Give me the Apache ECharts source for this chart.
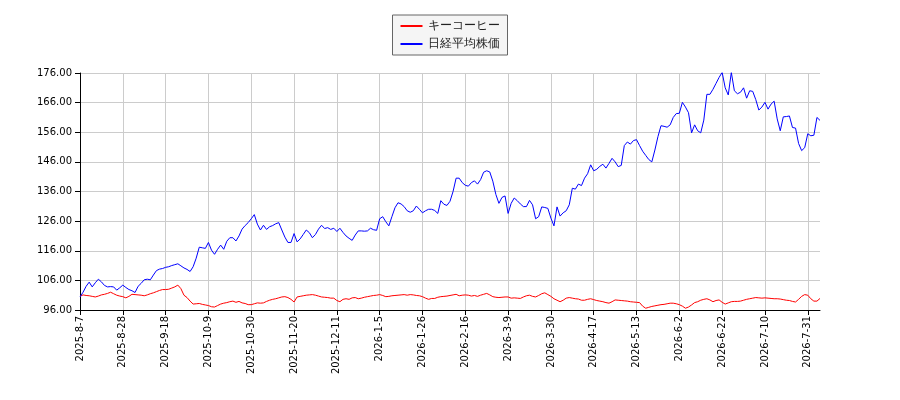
<!DOCTYPE html>
<html><head><meta charset="utf-8">
<script src="https://cdn.jsdelivr.net/npm/echarts@6/dist/echarts.min.js"></script>
<style>html,body{margin:0;padding:0;background:#fff}#c{width:900px;height:400px}</style>
</head><body><div id="c"></div>
<script>
const seriesNames = ['キーコーヒー', '日経平均株価'];
const startDate = '2025-08-07';
const holidays = ['2025-8-11','2025-9-15','2025-9-23','2025-10-13','2025-11-3','2025-11-24','2025-12-31','2026-1-1','2026-1-2','2026-1-12','2026-2-11','2026-2-23','2026-3-20','2026-4-29','2026-5-4','2026-5-5','2026-5-6','2026-7-20'];
const keyCoffee = [100.6,101.1,100.9,100.8,100.6,100.4,100.7,101.1,101.3,101.6,102.0,101.5,101.0,100.7,100.5,100.1,100.6,101.3,101.2,101.1,
101.0,100.8,101.1,101.5,101.8,102.2,102.6,102.9,102.9,103.0,103.4,103.8,104.4,103.2,101.0,100.2,99.0,98.0,98.1,98.2,
97.9,97.7,97.5,97.1,97.0,97.5,98.0,98.3,98.5,98.8,99.0,98.6,98.9,98.4,98.2,97.8,97.8,98.1,98.4,98.3,
98.4,98.9,99.3,99.6,99.8,100.1,100.4,100.5,100.2,99.6,98.7,100.4,100.6,100.8,101.0,101.1,101.2,101.0,100.7,100.4,
100.3,100.2,100.0,100.0,99.2,98.8,99.6,99.8,99.6,100.1,100.2,99.8,100.0,100.3,100.5,100.7,100.9,101.0,101.2,100.9,
100.5,100.6,100.8,100.9,101.0,101.1,101.2,101.0,101.2,101.1,100.9,100.8,100.5,100.0,99.6,99.9,99.9,100.3,100.5,100.6,
100.7,100.9,101.1,101.3,100.8,101.0,101.1,101.0,100.7,100.9,100.6,101.0,101.3,101.6,101.1,100.5,100.3,100.2,100.3,100.4,
100.4,100.0,100.1,100.0,99.9,100.4,100.8,101.0,100.6,100.4,100.9,101.5,101.8,101.2,100.6,99.8,99.3,98.8,99.3,100.0,
100.2,100.0,99.8,99.7,99.3,99.3,99.6,99.8,99.5,99.2,99.0,98.8,98.5,98.3,98.8,99.4,99.3,99.2,99.1,99.0,
98.8,98.7,98.6,98.5,97.3,96.6,96.9,97.2,97.4,97.6,97.8,97.9,98.1,98.3,98.3,98.1,97.8,97.3,96.6,97.0,
97.7,98.5,98.8,99.3,99.6,99.8,99.4,98.8,99.2,99.4,98.6,98.0,98.4,98.8,98.9,98.9,99.0,99.3,99.6,99.8,
100.0,100.2,100.1,100.0,100.1,100.0,99.9,99.8,99.8,99.7,99.5,99.3,99.2,98.9,98.7,99.6,100.6,101.2,101.0,99.8,
99.0,99.0,99.9];
const nikkei = [100.4,102.0,104.0,105.4,103.8,105.2,106.4,105.5,104.3,103.8,103.9,103.8,102.7,103.5,104.4,103.6,102.9,102.5,101.9,104.0,
105.0,106.2,106.4,106.2,107.8,109.3,109.8,110.0,110.4,110.6,111.0,111.3,111.6,110.9,110.2,109.7,109.0,110.6,113.5,117.2,
117.0,116.8,118.8,116.2,114.8,116.5,117.9,116.5,119.2,120.4,120.4,119.3,121.0,123.3,124.5,125.5,126.8,128.2,125.0,123.0,
124.6,123.2,124.1,124.5,125.1,125.5,123.0,120.6,118.8,118.8,121.8,119.0,120.0,121.5,123.0,122.1,120.4,121.5,123.3,124.6,
123.5,123.8,123.2,123.6,122.5,123.6,122.2,121.0,120.2,119.5,121.3,122.7,122.7,122.6,122.7,123.6,123.1,122.9,126.8,127.5,
125.8,124.4,127.5,130.5,132.2,131.8,130.9,129.5,129.0,129.5,131.1,130.0,128.8,129.5,130.0,130.0,129.6,128.6,132.9,131.7,
131.3,132.7,136.0,140.5,140.5,139.0,138.1,137.8,139.0,139.6,138.5,140.0,142.5,143.0,142.6,139.5,135.0,132.0,134.0,134.5,
128.6,132.0,133.8,132.9,131.8,130.9,130.9,133.0,131.5,126.8,127.5,130.8,130.6,130.3,127.0,124.4,130.8,127.7,128.8,129.5,
131.5,137.1,136.8,138.5,138.0,140.5,142.0,145.0,143.0,143.5,144.5,145.2,143.9,145.5,147.2,146.0,144.4,144.8,151.5,152.7,
152.0,153.2,153.5,151.5,149.6,148.2,146.8,146.0,150.0,154.5,158.2,158.0,157.7,158.5,161.0,162.3,162.4,166.1,164.5,162.6,
155.8,158.5,156.5,155.8,160.1,168.8,168.8,170.5,172.5,174.5,176.2,171.0,168.6,176.2,170.0,169.0,169.5,171.0,167.5,170.0,
169.8,167.0,163.5,164.5,166.1,163.8,165.5,166.5,160.5,156.5,161.2,161.3,161.5,157.6,157.4,152.2,149.8,150.8,155.5,154.8,
155.0,161.0,160.0];
const yMin = 96, yMax = 176, yStep = 10;

const hol = new Set(holidays);
const dates = [];
let d = new Date(startDate + 'T00:00:00Z');
while (dates.length < nikkei.length) {
  const wd = d.getUTCDay();
  const s = d.getUTCFullYear() + '-' + (d.getUTCMonth() + 1) + '-' + d.getUTCDate();
  if (wd !== 0 && wd !== 6 && !hol.has(s)) dates.push(s);
  d = new Date(d.getTime() + 86400000);
}
const font = 'DejaVu Sans';
const chart = echarts.init(document.getElementById('c'));
chart.setOption({
  animation: false,
  legend: {
    top: 15, left: 'center', orient: 'vertical',
    data: seriesNames, itemWidth: 22, itemHeight: 2, itemGap: 6,
    borderColor: '#666', borderWidth: 1, backgroundColor: '#f5f5f5', borderRadius: 0,
    padding: [5, 8, 5, 8],
    textStyle: { fontFamily: font, fontSize: 12, color: '#222' },
    icon: 'rect'
  },
  grid: { left: 80, right: 80, top: 73, bottom: 90 },
  xAxis: {
    type: 'category', data: dates, boundaryGap: false,
    axisLine: { lineStyle: { color: '#000' } },
    axisTick: { interval: 13, length: 5, lineStyle: { color: '#000' } },
    axisLabel: { interval: 13, rotate: 90, fontFamily: font, fontSize: 10, color: '#000', margin: 6 },
    splitLine: { show: true, interval: 13, lineStyle: { color: '#ccc' } }
  },
  yAxis: {
    type: 'value', min: yMin, max: yMax, interval: yStep,
    axisLine: { show: true, lineStyle: { color: '#000' } },
    axisTick: { show: true, length: 5, lineStyle: { color: '#000' } },
    axisLabel: { fontFamily: font, fontSize: 10, color: '#000', formatter: v => v.toFixed(2) },
    splitLine: { lineStyle: { color: '#ccc' } }
  },
  series: [
    { name: seriesNames[0], type: 'line', data: keyCoffee, showSymbol: false, lineStyle: { color: '#f00', width: 1 }, itemStyle: { color: '#f00' } },
    { name: seriesNames[1], type: 'line', data: nikkei, showSymbol: false, lineStyle: { color: '#00f', width: 1 }, itemStyle: { color: '#00f' } }
  ]
});
</script></body></html>
